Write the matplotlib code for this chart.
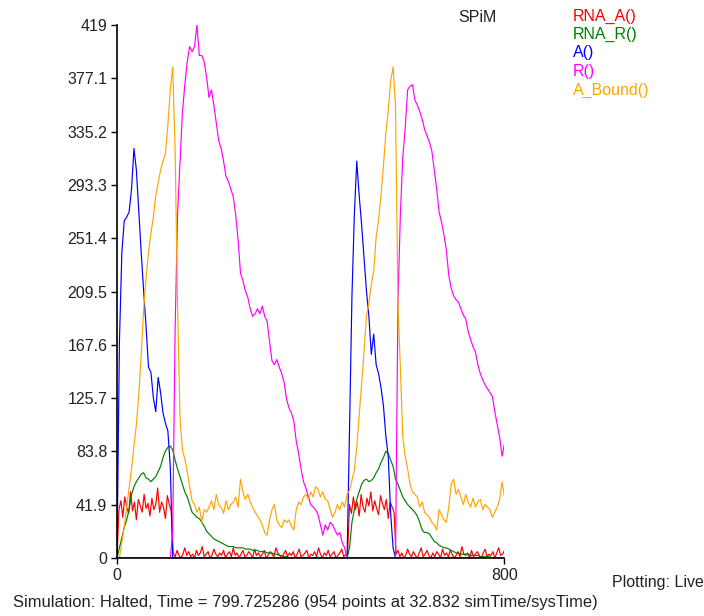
import numpy as np
import matplotlib
matplotlib.use("Agg")
import matplotlib.pyplot as plt

# SPiM run: species counts sampled every 5 time units (RNA_A every 4)
T_END = 800
t5 = np.arange(0, T_END + 1, 5)
t4 = np.arange(0, T_END + 1, 4)

a_free = ([0, 170, 240, 265, 268, 272, 290, 322, 305, 272, 240, 210, 182, 150, 146, 126,
           115, 142, 130, 114, 106, 100, 72, 0]
          + [0] * 72
          + [100, 205, 270, 312, 285, 262, 236, 210, 190, 160, 176, 152, 145, 134, 120, 96,
             80, 35, 8, 0]
          + [0] * 45)

a_bound = [0, 0, 12, 25, 40, 55, 70, 88, 105, 128, 160, 195, 220, 240, 255, 268,
           285, 295, 305, 312, 318, 340, 368, 386, 320, 200, 111, 85, 78, 68, 56, 45,
           42, 36, 40, 28, 38, 36, 40, 45, 38, 50, 42, 40, 35, 45, 38, 42,
           44, 48, 40, 62, 52, 46, 50, 44, 40, 36, 33, 30, 26, 20, 18, 30,
           38, 42, 30, 26, 24, 30, 28, 30, 25, 22, 38, 44, 42, 48, 50, 46,
           52, 48, 56, 54, 48, 52, 46, 45, 38, 32, 36, 42, 38, 44, 40, 50,
           53, 61, 69, 87, 112, 138, 162, 190, 200, 215, 226, 252, 266, 285, 308, 334,
           352, 375, 386, 355, 200, 150, 95, 80, 70, 58, 52, 50, 48, 40, 44, 36,
           34, 32, 28, 26, 22, 38, 34, 30, 28, 40, 58, 62, 50, 54, 48, 42,
           50, 44, 40, 47, 40, 44, 46, 38, 42, 40, 38, 32, 36, 40, 46, 60, 48]

r_free = ([0] * 23
          + [20, 180, 270, 310, 350, 372, 390, 402, 398, 402, 419, 395, 395, 390, 378, 362,
             368, 356, 342, 328, 322, 312, 300, 296, 290, 284, 270, 250, 224, 218, 210,
             205, 196, 190, 192, 196, 192, 198, 190, 186, 170, 155, 152, 156, 150, 145,
             138, 125, 118, 114, 108, 92, 82, 70, 60, 55, 48, 42, 40, 38, 34,
             26, 18, 26, 22, 28, 26, 22, 18, 20, 12, 8, 0]
          + [0] * 20
          + [200, 270, 315, 338, 368, 371, 372, 360, 356, 351, 345, 337, 332, 327, 320,
             305, 290, 272, 264, 254, 242, 222, 212, 206, 203, 201, 196, 191, 188, 178,
             172, 166, 162, 152, 145, 140, 136, 133, 130, 127, 115, 105, 95, 80, 90])

rna_r = ([0, 8, 16, 24, 30, 38, 50, 56, 60, 63, 66, 67, 63, 62, 60, 62,
          64, 68, 72, 79, 84, 87, 88, 85, 77, 70, 64, 58, 52, 48, 42, 36,
          34, 32, 31, 28, 25, 21, 19, 17, 15, 14, 13, 12, 11, 10, 9, 9,
          9, 8, 8, 8, 8, 7, 7, 7, 6, 6, 6, 5, 5, 5, 4, 4,
          4, 3, 3, 2, 2, 1, 1]
         + [0] * 25
         + [8, 28, 38, 46, 52, 58, 61, 62, 60, 61, 63, 67, 70, 75, 79, 84,
            82, 77, 72, 62, 58, 53, 48, 45, 42, 40, 38, 36, 33, 28, 22, 20,
            20, 19, 16, 13, 12, 10, 9, 8, 8, 7, 6, 5, 4, 4, 3, 3,
            3, 3, 2, 2, 2, 2, 1, 1, 1, 1, 1, 0, 0, 0, 0, 0, 0])

rna_a = ([0]
         + [38, 45, 32, 48, 40, 35, 52, 37, 44, 30, 46, 41, 36, 50, 39, 43, 33, 47, 38, 42,
            55, 36, 44, 40, 31, 49, 42, 37]
         + [4, 1, 6, 2, 0, 3, 8, 2, 5, 1, 3, 0, 6, 2, 4, 9, 1, 3, 5, 0,
            2, 7, 3, 1, 4, 2, 6, 0, 3, 5, 1, 8, 2, 4, 0, 3, 6, 1, 2, 5,
            3, 0, 7, 2, 4, 1, 3, 6, 0, 2, 5, 3, 1, 8, 4, 2, 0, 3, 6, 1,
            4, 2, 5, 0, 3, 7, 1, 2, 4, 6, 0, 3, 2, 5, 1, 8, 3, 0, 4, 2,
            6, 1, 3, 5, 0, 2, 4, 7, 1, 3, 2]
         + [42, 35, 48, 38, 44, 33, 50, 40, 36, 47, 41, 52, 37, 45, 39, 34, 49, 43, 38, 46,
            31, 44, 40, 36]
         + [3, 6, 1, 4, 0, 2, 7, 3, 1, 5, 2, 0, 4, 8, 1, 3, 6, 2, 0, 4,
            1, 5, 3, 0, 7, 2, 4, 1, 6, 3, 0, 2, 5, 1, 9, 3, 2, 4, 0, 6,
            1, 3, 5, 2, 0, 4, 7, 1, 3, 2, 5, 0, 4, 8, 2, 3, 6])

SERIES = [
    ("RNA_A()", t4, rna_a, "#ff0000"),
    ("RNA_R()", t5, rna_r, "#008000"),
    ("A()", t5, a_free, "#0000ff"),
    ("R()", t5, r_free, "#ff00ff"),
    ("A_Bound()", t5, a_bound, "#ffa500"),
]

Y_TICKS = [0, 41.9, 83.8, 125.7, 167.6, 209.5, 251.4, 293.3, 335.2, 377.1, 419]
Y_LABELS = ["0", "41.9", "83.8", "125.7", "167.6", "209.5", "251.4", "293.3",
            "335.2", "377.1", "419"]
X_TICKS = [0, 800]

STATUS = "Simulation: Halted, Time = 799.725286 (954 points at 32.832 simTime/sysTime)"

W, H = 704, 616
plt.rcParams["font.family"] = ["Liberation Sans", "DejaVu Sans"]
plt.rcParams["font.size"] = 11.5

fig = plt.figure(figsize=(W / 100, H / 100), dpi=100)
ax = fig.add_axes([117 / W, 58 / H, 387.5 / W, 533 / H])

for name, tt, vals, col in SERIES:
    ax.plot(tt, vals, color=col, lw=0.85)

ax.set_xlim(0, T_END)
ax.set_ylim(0, 419)
ax.set_xticks(X_TICKS)
ax.set_xticklabels([str(x) for x in X_TICKS])
ax.set_yticks(Y_TICKS)
ax.set_yticklabels(Y_LABELS)
ax.tick_params(direction="out", length=4, width=1, pad=3, labelcolor="#222222")
for side in ("top", "right"):
    ax.spines[side].set_visible(False)
for side in ("left", "bottom"):
    ax.spines[side].set_linewidth(1.2)

# header and species key
fig.text(458 / W, 1 - 17 / H, "SPiM", ha="left", va="center", color="#222222")
for i, (name, _, _, col) in enumerate(SERIES):
    fig.text(573 / W, 1 - (16 + 18.5 * i) / H, name, ha="left", va="center", color=col)

fig.text(612 / W, 1 - 583 / H, "Plotting: Live", ha="left", va="center", color="#222222")
fig.text(13 / W, 1 - 603 / H, STATUS, ha="left", va="center", color="#222222",
         fontsize=11.9)

fig.savefig("out.png", dpi=100)
